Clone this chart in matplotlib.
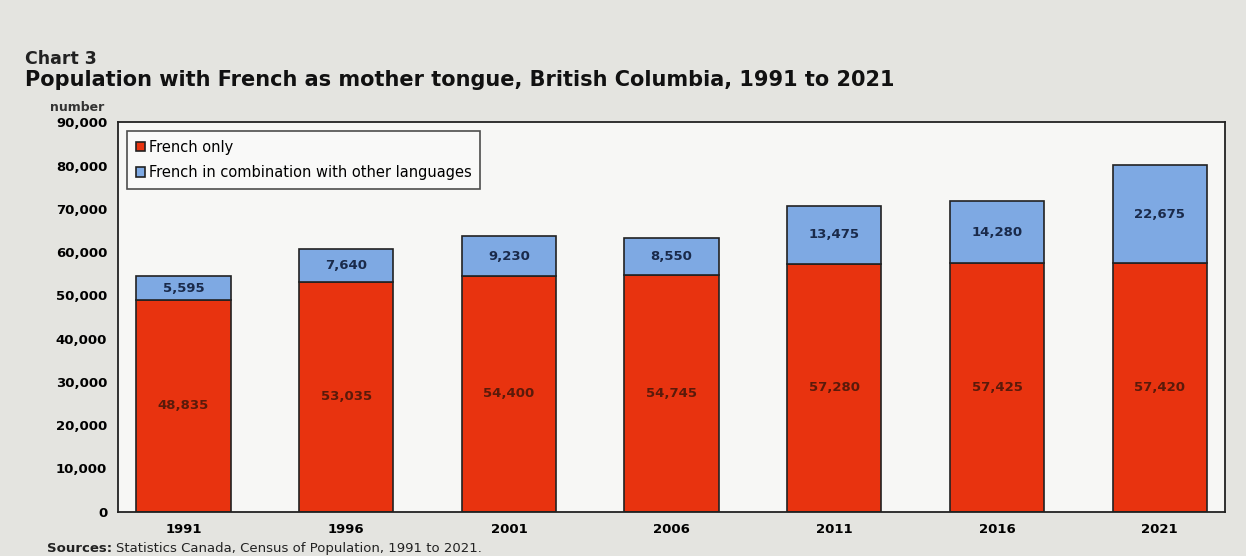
import numpy as np
import matplotlib.pyplot as plt
from matplotlib.ticker import FuncFormatter

# data
years = ["1991", "1996", "2001", "2006", "2011", "2016", "2021"]
french_only = [48835, 53035, 54400, 54745, 57280, 57425, 57420]
french_combo = [5595, 7640, 9230, 8550, 13475, 14280, 22675]
yticks = [0, 10000, 20000, 30000, 40000, 50000, 60000, 70000, 80000, 90000]

red = "#e8330f"
blue = "#7ea9e3"

plt.rcParams['font.family'] = ['DejaVu Sans']

fig = plt.figure(figsize=(12.46, 5.56), dpi=100)
fig.patch.set_facecolor("#e4e4e0")
ax = fig.add_axes([0.095, 0.08, 0.888, 0.70])
ax.set_facecolor("#f7f7f5")

x = np.arange(len(years))
ax.bar(x, french_only, width=0.58, color=red, edgecolor="#222222", linewidth=1.2,
       label="French only")
ax.bar(x, french_combo, width=0.58, bottom=french_only, color=blue,
       edgecolor="#222222", linewidth=1.2,
       label="French in combination with other languages")

# value labels in the middle of each segment
for xi, a, b in zip(x, french_only, french_combo):
    ax.text(xi, a / 2, f"{a:,}", ha="center", va="center", fontsize=9.5,
            fontweight="bold", color="#5a1a0a")
    ax.text(xi, a + b / 2, f"{b:,}", ha="center", va="center", fontsize=9.5,
            fontweight="bold", color="#1a2a4a")

ax.set_xlim(-0.4, 6.4)
ax.set_ylim(0, 90000)
ax.set_yticks(yticks)
ax.yaxis.set_major_formatter(FuncFormatter(lambda v, p: f"{int(v):,}"))
ax.set_xticks(x)
ax.set_xticklabels(years)
ax.tick_params(length=0, labelsize=9.5, pad=8)
for lab in ax.get_xticklabels() + ax.get_yticklabels():
    lab.set_fontweight("bold")
for s in ax.spines.values():
    s.set_color("#222222")
    s.set_linewidth(1.3)

leg = ax.legend(loc="upper left", bbox_to_anchor=(0.0, 1.0), fontsize=10.5,
                frameon=True, fancybox=False, edgecolor="#222222",
                handlelength=0.6, handleheight=0.6, handletextpad=0.3,
                borderpad=0.6, labelspacing=0.7, borderaxespad=0.6)
leg.get_frame().set_linewidth(1.2)
leg.get_frame().set_facecolor("#fafafa")

fig.text(0.02, 0.885, "Chart 3", fontsize=12.5, fontweight="bold", color="#222222")
fig.text(0.02, 0.845, "Population with French as mother tongue, British Columbia, 1991 to 2021",
         fontsize=15, fontweight="bold", color="#111111")
fig.text(0.04, 0.80, "number", fontsize=9, fontweight="bold", color="#333333")
fig.text(0.038, 0.008, "Sources:", fontsize=9.5, fontweight="bold", color="#222222")
fig.text(0.093, 0.008, "Statistics Canada, Census of Population, 1991 to 2021.",
         fontsize=9.5, color="#222222")

fig.savefig("out.png", dpi=100, facecolor=fig.get_facecolor())
